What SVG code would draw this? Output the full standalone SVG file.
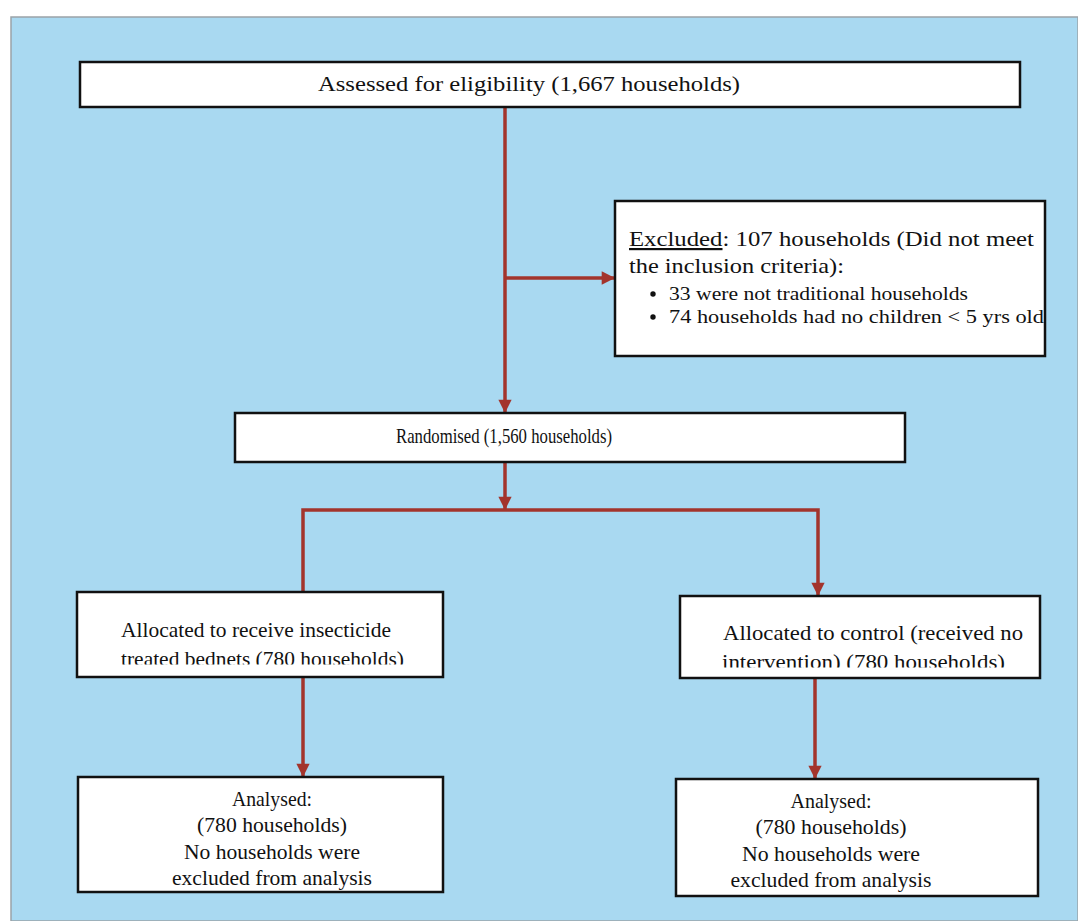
<svg xmlns="http://www.w3.org/2000/svg" width="1078" height="921" viewBox="0 0 1078 921">
<defs>
<style>
.box{fill:#ffffff;stroke:#111111;stroke-width:2.5}
.t{font-family:"Liberation Serif","Times New Roman",serif;font-size:22px;fill:#111}
.s{font-family:"Liberation Serif","Times New Roman",serif;font-size:19px;fill:#111}
.c{text-anchor:middle}
.line{fill:none;stroke:#A3342C;stroke-width:3.5}
</style>
<marker id="ah" viewBox="0 0 10 10" refX="10" refY="5" markerWidth="4.2" markerHeight="3.8" markerUnits="strokeWidth" orient="auto">
<path d="M0,0 L10,5 L0,10 Z" fill="#A3342C"/>
</marker>
<clipPath id="clipL"><rect x="80" y="595" width="360" height="69.5"/></clipPath>
<clipPath id="clipR"><rect x="683" y="599" width="354" height="68.5"/></clipPath>
</defs>
<rect x="0" y="0" width="1078" height="921" fill="#ffffff"/>
<rect x="11" y="17" width="1067" height="904" fill="#A9D9F1" stroke="#9aa3a8" stroke-width="1.5"/>
<g id="connectors">
<line class="line" x1="505" y1="107" x2="505" y2="413" marker-end="url(#ah)"/>
<line class="line" x1="505" y1="278" x2="615" y2="278" marker-end="url(#ah)"/>
<line class="line" x1="505" y1="462" x2="505" y2="510" marker-end="url(#ah)"/>
<polyline class="line" points="303,592 303,510 818,510 818,596" marker-end="url(#ah)"/>
<line class="line" x1="303" y1="677" x2="303" y2="777" marker-end="url(#ah)"/>
<line class="line" x1="815" y1="678" x2="815" y2="779" marker-end="url(#ah)"/>
</g>
<g id="assessed">
<rect class="box" x="80" y="62" width="940" height="45"/>
<text class="t" x="318" y="91" font-size="24" textLength="422" lengthAdjust="spacingAndGlyphs">Assessed for eligibility (1,667 households)</text>
</g>
<g id="excluded">
<rect class="box" x="615" y="201" width="430" height="155"/>
<text class="t" x="629" y="246" font-size="24" textLength="405" lengthAdjust="spacingAndGlyphs"><tspan text-decoration="underline">Excluded</tspan>: 107 households (Did not meet</text>
<text class="t" x="629" y="273" font-size="24" textLength="215" lengthAdjust="spacingAndGlyphs">the inclusion criteria):</text>
<circle cx="653" cy="294" r="2.7" fill="#111"/>
<text class="s" x="669" y="300" textLength="299" lengthAdjust="spacingAndGlyphs">33 were not traditional households</text>
<circle cx="653" cy="317" r="2.7" fill="#111"/>
<text class="s" x="669" y="323" textLength="375" lengthAdjust="spacingAndGlyphs">74 households had no children &lt; 5 yrs old</text>
</g>
<g id="randomised">
<rect class="box" x="235" y="413" width="670" height="49"/>
<text class="t" x="396" y="443" font-size="23" textLength="216" lengthAdjust="spacingAndGlyphs">Randomised (1,560 households)</text>
</g>
<g id="alloc-itn">
<rect class="box" x="77" y="592" width="366" height="85"/>
<text class="t" x="121" y="637" textLength="270" lengthAdjust="spacingAndGlyphs">Allocated to receive insecticide</text>
<text class="t" x="121" y="666" textLength="283" lengthAdjust="spacingAndGlyphs" clip-path="url(#clipL)">treated bednets (780 households)</text>
</g>
<g id="alloc-control">
<rect class="box" x="680" y="596" width="360" height="82"/>
<text class="t" x="723" y="640" textLength="300" lengthAdjust="spacingAndGlyphs">Allocated to control (received no</text>
<text class="t" x="722" y="669" textLength="283" lengthAdjust="spacingAndGlyphs" clip-path="url(#clipR)">intervention) (780 households)</text>
</g>
<g id="analysed-itn">
<rect class="box" x="78" y="777" width="365" height="115"/>
<text class="t c" x="272" y="806" font-size="21" textLength="80" lengthAdjust="spacingAndGlyphs">Analysed:</text>
<text class="t c" x="272" y="832" font-size="21" textLength="150" lengthAdjust="spacingAndGlyphs">(780 households)</text>
<text class="t c" x="272" y="859" font-size="21" textLength="176" lengthAdjust="spacingAndGlyphs">No households were</text>
<text class="t c" x="272" y="885" font-size="21" textLength="200" lengthAdjust="spacingAndGlyphs">excluded from analysis</text>
</g>
<g id="analysed-control">
<rect class="box" x="676" y="779" width="362" height="117"/>
<text class="t c" x="831" y="808" font-size="21" textLength="81" lengthAdjust="spacingAndGlyphs">Analysed:</text>
<text class="t c" x="831" y="834" font-size="21" textLength="151" lengthAdjust="spacingAndGlyphs">(780 households)</text>
<text class="t c" x="831" y="861" font-size="21" textLength="178" lengthAdjust="spacingAndGlyphs">No households were</text>
<text class="t c" x="831" y="887" font-size="21" textLength="201" lengthAdjust="spacingAndGlyphs">excluded from analysis</text>
</g>
</svg>
